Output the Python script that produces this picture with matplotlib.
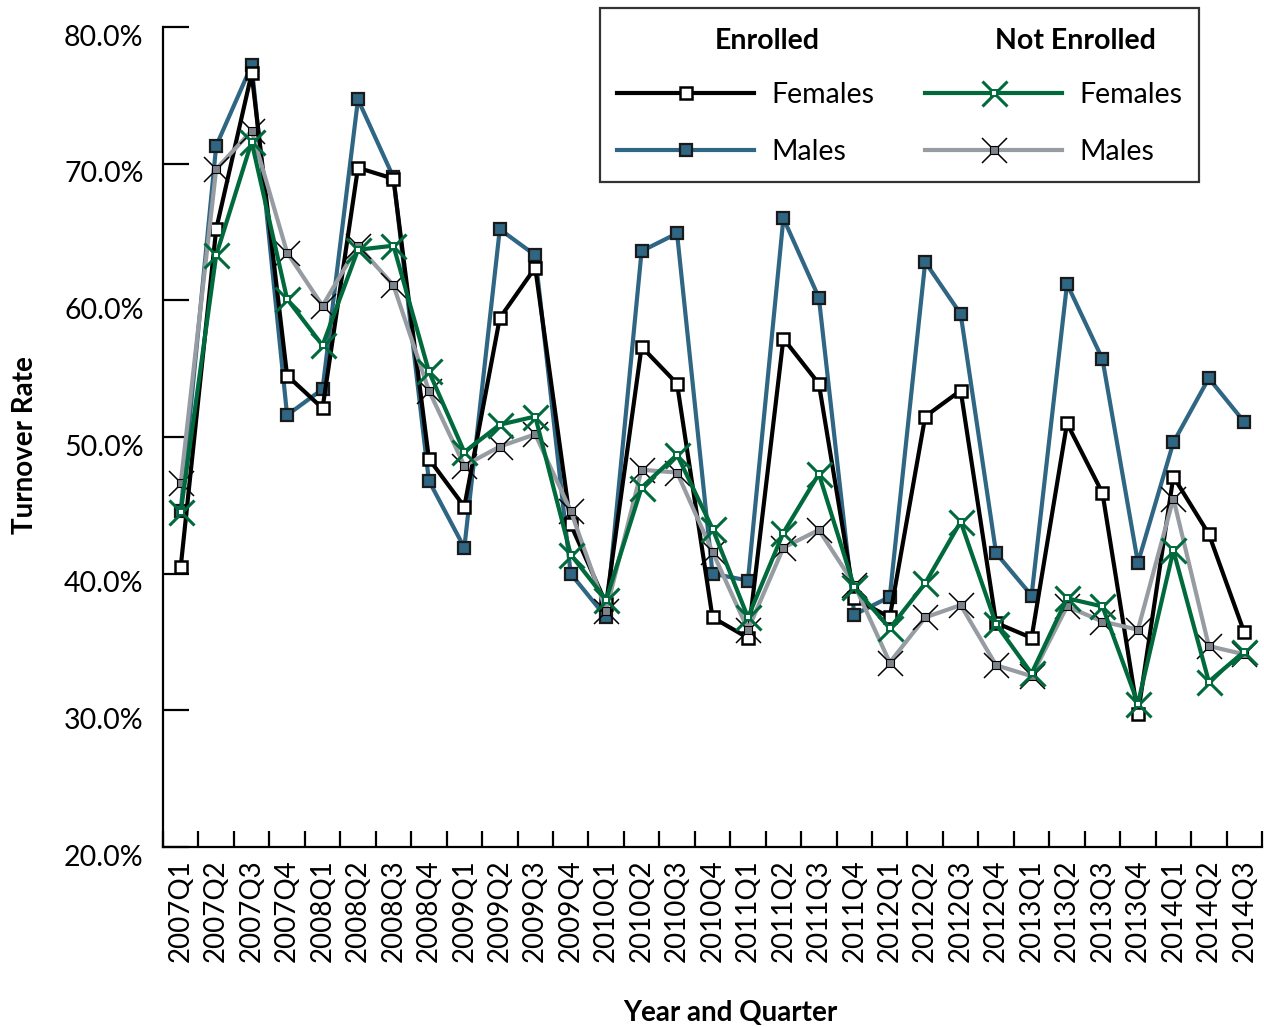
import matplotlib
matplotlib.use("Agg")
import matplotlib.pyplot as plt
import matplotlib.transforms as mtransforms
from matplotlib.lines import Line2D
from matplotlib.ticker import PercentFormatter, FixedLocator

plt.rcParams['font.family'] = ['Lato', 'DejaVu Sans']

quarters = ['2007Q1', '2007Q2', '2007Q3', '2007Q4', '2008Q1', '2008Q2', '2008Q3', '2008Q4',
            '2009Q1', '2009Q2', '2009Q3', '2009Q4', '2010Q1', '2010Q2', '2010Q3', '2010Q4',
            '2011Q1', '2011Q2', '2011Q3', '2011Q4', '2012Q1', '2012Q2', '2012Q3', '2012Q4',
            '2013Q1', '2013Q2', '2013Q3', '2013Q4', '2014Q1', '2014Q2', '2014Q3']

enrolled_females = [40.5, 65.2, 76.6, 54.5, 52.1, 69.7, 68.9, 48.4, 44.9, 58.7, 62.4,
                    43.6, 37.8, 56.6, 53.9, 36.8, 35.3, 57.2, 53.9, 38.2, 36.8, 51.5,
                    53.4, 36.4, 35.3, 51.0, 45.9, 29.7, 47.1, 42.9, 35.7]
enrolled_males = [44.6, 71.3, 77.2, 51.6, 53.5, 74.7, 69.0, 46.8, 41.9, 65.2, 63.3,
                  40.0, 36.8, 63.6, 64.9, 40.0, 39.5, 66.0, 60.2, 37.0, 38.3, 62.8,
                  59.0, 41.5, 38.4, 61.2, 55.7, 40.8, 49.6, 54.3, 51.1]
not_enrolled_females = [44.5, 63.3, 71.6, 60.1, 56.7, 63.7, 64.0, 54.8, 48.9, 50.9, 51.5,
                        41.4, 38.1, 46.3, 48.7, 43.3, 36.8, 43.0, 47.3, 39.0, 36.0, 39.3,
                        43.8, 36.3, 32.7, 38.2, 37.6, 30.5, 41.7, 32.1, 34.3]
not_enrolled_males = [46.6, 69.6, 72.4, 63.5, 59.6, 64.0, 61.1, 53.4, 47.9, 49.3, 50.2,
                      44.6, 37.3, 47.6, 47.4, 41.6, 35.9, 41.9, 43.2, 39.2, 33.5, 36.8,
                      37.7, 33.3, 32.5, 37.6, 36.5, 35.9, 45.5, 34.7, 34.1]

blue = '#2e6683'
green = '#006a3c'
gray = '#979ca3'

fig = plt.figure(figsize=(12.64, 10.27), dpi=100)
ax = fig.add_axes([163/1264, 1-847/1027, 1099/1264, 820/1027])

x = list(range(len(quarters)))
lw = 3.0

em, = ax.plot(x, enrolled_males, color=blue, lw=lw, marker='s', ms=8.5,
              mfc=blue, mec='#1a1a1a', mew=1.6, zorder=3)
ef, = ax.plot(x, enrolled_females, color='black', lw=lw, marker='s', ms=9,
              mfc='white', mec='black', mew=1.8, zorder=4)
nm, = ax.plot(x, not_enrolled_males, color=gray, lw=lw, marker='x', ms=18,
              mec='black', mew=1.1, zorder=5)
nm_sq, = ax.plot(x, not_enrolled_males, ls='none', marker='s', ms=6,
                 mfc='#7d838a', mec='black', mew=0.8, zorder=5)
nf, = ax.plot(x, not_enrolled_females, color=green, lw=lw, marker='x', ms=18,
              mec=green, mew=2.2, zorder=6)
nf_sq, = ax.plot(x, not_enrolled_females, ls='none', marker='s', ms=5,
                 mfc='white', mec=green, mew=1.4, zorder=6)

ax.set_ylim(20, 80)
ax.set_xlim(-0.5, len(quarters) - 0.5)
ax.set_yticks([20, 30, 40, 50, 60, 70, 80])
ax.yaxis.set_major_formatter(PercentFormatter(decimals=1))

# boundaries as major ticks, labels on minor ticks at the centre of each quarter
ax.xaxis.set_major_locator(FixedLocator([i - 0.5 for i in range(len(quarters) + 1)]))
ax.xaxis.set_major_formatter(plt.NullFormatter())
ax.set_xticks(x, minor=True)
ax.set_xticklabels(quarters, minor=True, rotation=90, fontsize=20)
ax.tick_params(axis='x', which='major', direction='in', length=11.5, width=1.6)
ax.tick_params(axis='x', which='minor', length=0, pad=9)
ax.tick_params(axis='y', direction='in', length=19, width=1.6, labelsize=20.5, pad=14)

offset = mtransforms.ScaledTranslation(0, -8/100, fig.dpi_scale_trans)
for lab in ax.get_yticklabels():
    lab.set_transform(lab.get_transform() + offset)

for s in ['top', 'right']:
    ax.spines[s].set_visible(False)
for s in ['left', 'bottom']:
    ax.spines[s].set_linewidth(1.6)

ax.set_xlabel('Year and Quarter', fontsize=20, fontweight='bold')
ax.xaxis.set_label_coords(0.516, -0.186)
ax.set_ylabel('Turnover Rate', fontsize=20, fontweight='bold')
ax.yaxis.set_label_coords(-0.114, 0.49)

blank = Line2D([], [], ls='none')
handles = [blank, ef, em, blank, (nf, nf_sq), (nm, nm_sq)]
labels = [' ', 'Females', 'Males', ' ', 'Females', 'Males']
leg = ax.legend(handles, labels, ncol=2, loc='upper left',
                bbox_to_anchor=(0.398, 1.023), borderaxespad=0,
                fontsize=20.5, handlelength=4.8, handletextpad=0.6,
                labelspacing=1.08, columnspacing=1.8, numpoints=1,
                frameon=True, fancybox=False, edgecolor='black', borderpad=0.6)
leg.get_frame().set_linewidth(1.6)

ax.text(0.55, 0.983, 'Enrolled', transform=ax.transAxes, ha='center', va='center',
        fontsize=20.5, fontweight='bold', zorder=10)
ax.text(0.83, 0.983, 'Not Enrolled', transform=ax.transAxes, ha='center', va='center',
        fontsize=20.5, fontweight='bold', zorder=10)

fig.savefig('out.png', dpi=100)
